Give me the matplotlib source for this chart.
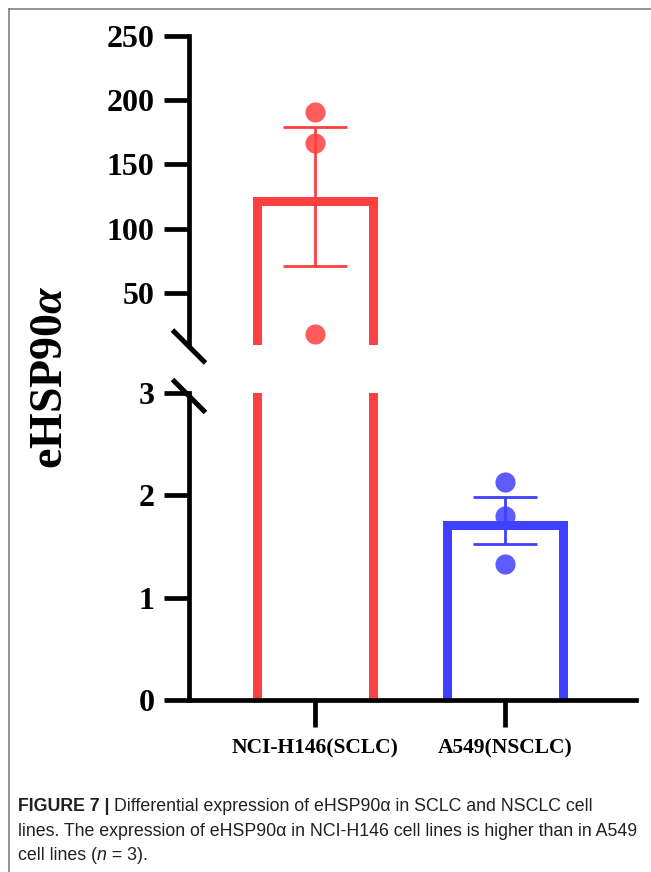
import numpy as np
import matplotlib.pyplot as plt
from matplotlib.lines import Line2D

plt.rcParams['mathtext.fontset'] = 'custom'
plt.rcParams['mathtext.rm'] = 'Liberation Serif:bold'
plt.rcParams['mathtext.it'] = 'Liberation Serif:italic:bold'

groups = ['NCI-H146(SCLC)', 'A549(NSCLC)']
sclc_points = [191.0, 166.5, 18.0]
nsclc_points = [2.13, 1.80, 1.33]
colors = ['#FF4040', '#4040FF']
top_ticks = [50, 100, 150, 200, 250]
bot_ticks = [0, 1, 2, 3]

points = [np.array(sclc_points), np.array(nsclc_points)]
means = [p.mean() for p in points]
sems = [p.std(ddof=1) / np.sqrt(len(p)) for p in points]

W, H = 651, 872
fig = plt.figure(figsize=(W / 100, H / 100), dpi=100)


def fbox(x0, y0, x1, y1):
    return [x0 / W, 1 - y1 / H, (x1 - x0) / W, (y1 - y0) / H]


ax_top = fig.add_axes(fbox(189, 36, 636, 345))
ax_bot = fig.add_axes(fbox(189, 393, 636, 700))
xlim = (-126 / 190, -126 / 190 + 447 / 190)
ylims = {ax_top: (9.3, 250), ax_bot: (0, 3.0)}
heights_px = {ax_top: 309, ax_bot: 307}

tick_font = dict(family='Liberation Serif', weight='bold', size=23)
bar_lw_px = 9
bar_w = 0.66 - bar_lw_px / 190

for ax in (ax_top, ax_bot):
    lo, hi = ylims[ax]
    inset = (bar_lw_px / 2) * (hi - lo) / heights_px[ax]
    x = np.arange(len(groups))
    for i in range(len(groups)):
        bars = ax.bar(x[i], means[i], bottom=-inset * 2, width=bar_w,
                      facecolor='none', edgecolor=colors[i],
                      linewidth=bar_lw_px * 0.72, zorder=2)
        bars[0].set_height(means[i] - inset + inset * 2)
        bars[0].set_joinstyle('miter')
        ax.errorbar(x[i], means[i], yerr=sems[i], color=colors[i], lw=2,
                    capsize=23, capthick=2, zorder=3)
        p = points[i][(points[i] > lo) & (points[i] < hi)]
        if len(p):
            ax.plot(np.full(len(p), x[i]), p, 'o', color=colors[i],
                    alpha=0.85, markersize=14.5, markeredgewidth=0, zorder=4)
    ax.set_xlim(*xlim)
    ax.set_ylim(lo, hi)
    ax.spines['top'].set_visible(False)
    ax.spines['right'].set_visible(False)
    ax.spines['left'].set_linewidth(3.4)
    ax.spines['bottom'].set_linewidth(3.4)
    ax.spines['bottom'].set_zorder(5)
    ax.tick_params(axis='y', length=18, width=3.4, pad=7)

ax_top.set_yticks(top_ticks)
ax_top.set_yticklabels([str(t) for t in top_ticks], **tick_font)
ax_top.spines['bottom'].set_visible(False)
ax_top.set_xticks([])

ax_bot.set_yticks(bot_ticks)
ax_bot.set_yticklabels([str(t) for t in bot_ticks], **tick_font)
ax_bot.set_xticks(np.arange(len(groups)))
ax_bot.set_xticklabels(groups, family='Liberation Serif', weight='bold', size=15.5)
ax_bot.tick_params(axis='x', length=19.5, width=3.4, pad=8)

# break marks on the y axis
dx = 16.5 / 447
for ax, yfrac in ((ax_top, -1.5 / 309), (ax_bot, 1 - 3 / 307)):
    hy = 16.5 / heights_px[ax]
    ax.plot([-dx, dx], [yfrac + hy, yfrac - hy], color='black', lw=3.6,
            transform=ax.transAxes, clip_on=False, solid_capstyle='butt')

fig.text(51 / W, 1 - 377 / H, r'eHSP90$\alpha$', rotation=90, ha='center',
         va='center', family='Liberation Serif', weight='bold', size=33)

# frame lines
fig.add_artist(Line2D([9 / W, 9 / W], [0, 1 - 9 / H], color='#808080', lw=1.2))
fig.add_artist(Line2D([9 / W, 1], [1 - 9 / H, 1 - 9 / H], color='#808080', lw=1.2))

# caption
cap_font = 'Liberation Sans'
renderer = fig.canvas.get_renderer()
line2 = 'lines. The expression of eHSP90\u03b1 in NCI-H146 cell lines is higher than in A549'
probe = fig.text(0, 0, line2, family=cap_font, size=10)
cap_size = 10 * 622 / probe.get_window_extent(renderer).width
probe.remove()


def write_line(y_px, parts):
    x = 18
    for txt, style in parts:
        kw = dict(family=cap_font, size=cap_size, color='#231f20', va='center')
        if style == 'b':
            kw['weight'] = 'bold'
        if style == 'i':
            kw['style'] = 'italic'
        t = fig.text(x / W, 1 - y_px / H, txt, **kw)
        x = t.get_window_extent(renderer).x1


write_line(806, [('FIGURE 7 | ', 'b'),
                 ('Differential expression of eHSP90\u03b1 in SCLC and NSCLC cell', 'n')])
write_line(831, [(line2, 'n')])
write_line(855, [('cell lines (', 'n'), ('n', 'i'), (' = 3).', 'n')])

fig.savefig('out.png', dpi=100)
